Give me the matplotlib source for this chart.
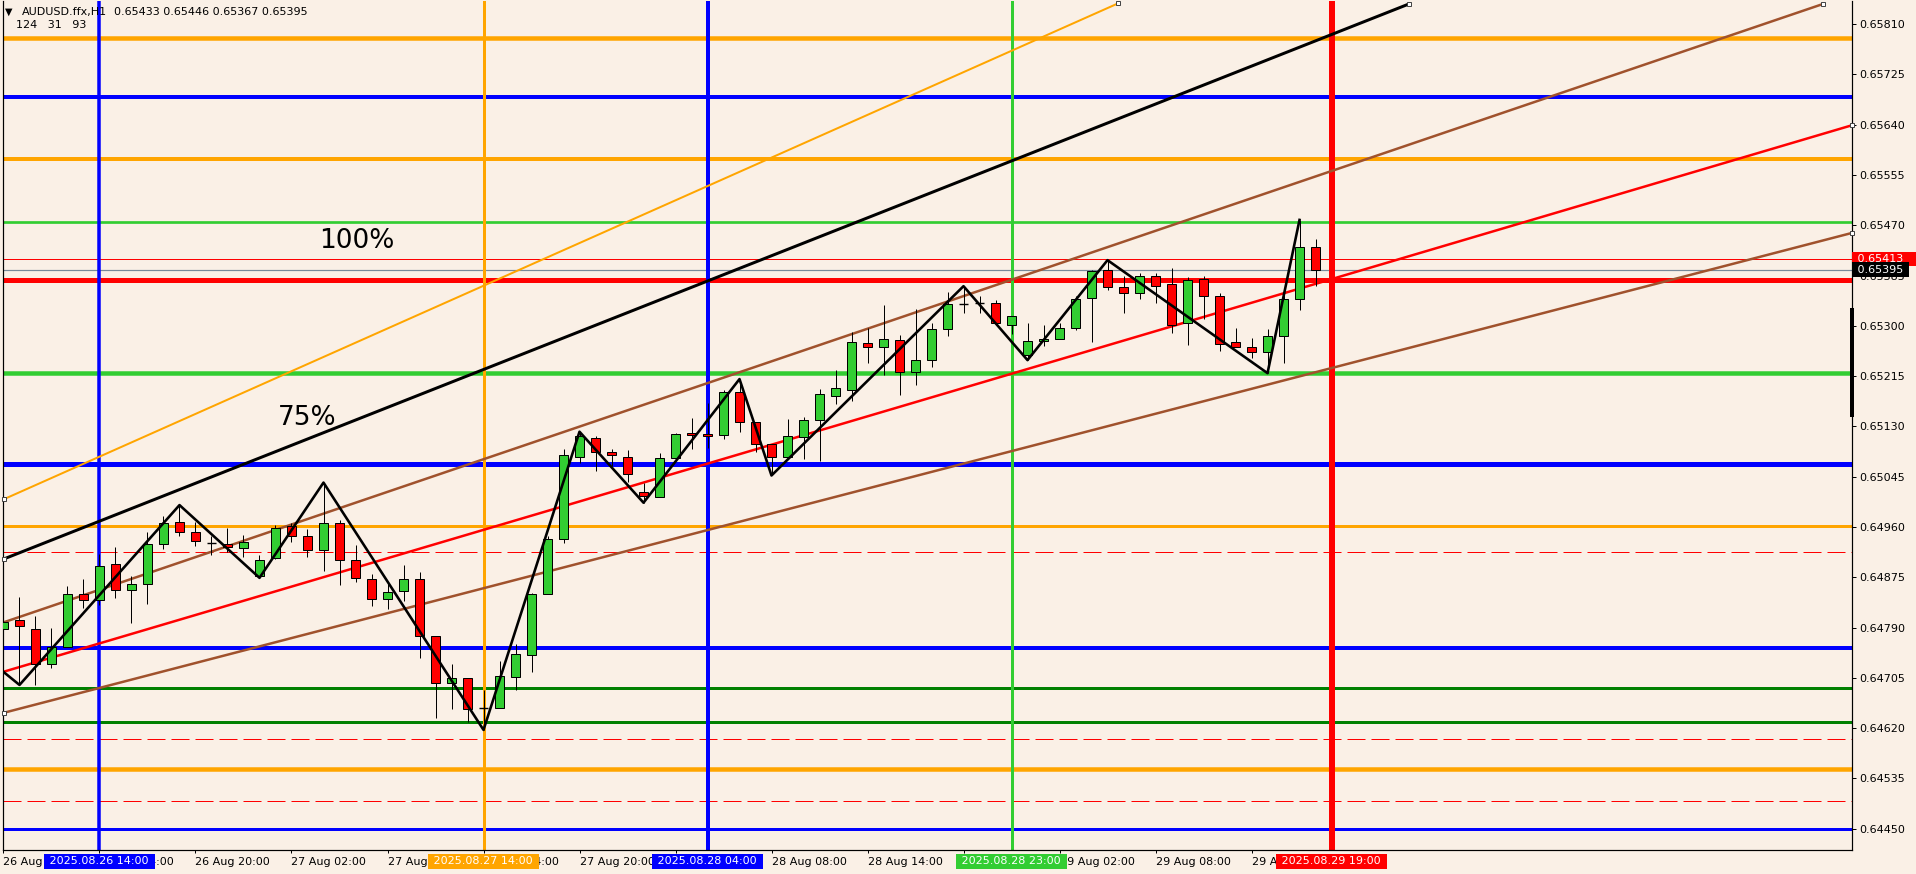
"""AUDUSD H1 chart (MT4 style) with horizontal levels, trendlines, zigzag and candles."""
import matplotlib

matplotlib.use("Agg")
import matplotlib.pyplot as plt
import matplotlib.transforms as mtransforms
from matplotlib.patches import Rectangle

W, H = 1916, 874
BG = "#FAF0E6"
UP = "#32CD32"
DOWN = "#FF0000"
PX = 0.72  # 1 px in points at dpi=100
FS = 8

# H1 bars from 26 Aug 08:00 to 29 Aug 18:00, prices in points (1e-5)
OPEN_PTS = [64787, 64802, 64787, 64728, 64757, 64846, 64836, 64897, 64853, 64863,
            64932, 64968, 64951, 64933, 64932, 64924, 64877, 64907, 64961, 64944,
            64921, 64966, 64904, 64872, 64838, 64852, 64872, 64775, 64697, 64704,
            64654, 64654, 64706, 64743, 64846, 64939, 65078, 65110, 65086, 65079,
            65019, 65010, 65076, 65118, 65117, 65115, 65188, 65137, 65100, 65078,
            65112, 65140, 65181, 65191, 65271, 65264, 65276, 65222, 65242, 65295,
            65338, 65338, 65338, 65301, 65250, 65274, 65277, 65296, 65347, 65394,
            65365, 65355, 65385, 65371, 65304, 65379, 65351, 65272, 65264, 65256,
            65283, 65345, 65433]
HIGH_PTS = [64811, 64842, 64810, 64789, 64860, 64872, 64915, 64926, 64877, 64951,
            64979, 64997, 64969, 64944, 64959, 64946, 64913, 64963, 64966, 64956,
            65035, 64972, 64929, 64880, 64865, 64896, 64884, 64775, 64728, 64704,
            64684, 64734, 64763, 64848, 64944, 65092, 65121, 65114, 65091, 65090,
            65034, 65085, 65119, 65145, 65169, 65191, 65210, 65137, 65100, 65142,
            65146, 65193, 65225, 65289, 65296, 65335, 65284, 65328, 65305, 65357,
            65367, 65350, 65344, 65316, 65304, 65302, 65304, 65350, 65395, 65411,
            65384, 65389, 65389, 65397, 65383, 65384, 65356, 65296, 65279, 65295,
            65352, 65479, 65446]
LOW_PTS = [64777, 64693, 64693, 64722, 64757, 64823, 64828, 64840, 64797, 64830,
           64922, 64944, 64928, 64912, 64918, 64910, 64874, 64906, 64935, 64909,
           64886, 64862, 64867, 64827, 64822, 64835, 64739, 64637, 64652, 64631,
           64617, 64654, 64684, 64715, 64846, 64933, 65068, 65055, 65063, 65036,
           65001, 65010, 65073, 65091, 65093, 65109, 65121, 65087, 65047, 65078,
           65075, 65071, 65168, 65173, 65237, 65217, 65183, 65200, 65230, 65283,
           65322, 65321, 65304, 65286, 65242, 65266, 65277, 65293, 65273, 65360,
           65322, 65345, 65339, 65288, 65267, 65311, 65258, 65265, 65246, 65220,
           65237, 65327, 65367]
CLOSE_PTS = [64800, 64792, 64728, 64757, 64846, 64836, 64894, 64853, 64863, 64932,
             64966, 64951, 64936, 64932, 64926, 64934, 64905, 64958, 64944, 64921,
             64966, 64904, 64874, 64838, 64850, 64872, 64776, 64697, 64704, 64652,
             64653, 64708, 64746, 64846, 64939, 65081, 65113, 65086, 65081, 65049,
             65012, 65076, 65117, 65115, 65113, 65188, 65137, 65100, 65079, 65113,
             65141, 65184, 65195, 65273, 65264, 65278, 65222, 65242, 65295, 65337,
             65337, 65338, 65304, 65316, 65275, 65278, 65297, 65346, 65393, 65365,
             65355, 65385, 65368, 65302, 65377, 65350, 65270, 65265, 65255, 65283,
             65345, 65433, 65395]

# x-axis labels every 6 bars
TIME_LABELS = ["26 Aug 08:00", "26 Aug 14:00", "26 Aug 20:00", "27 Aug 02:00",
               "27 Aug 08:00", "27 Aug 14:00", "27 Aug 20:00", "28 Aug 02:00",
               "28 Aug 08:00", "28 Aug 14:00", "28 Aug 20:00", "29 Aug 02:00",
               "29 Aug 08:00", "29 Aug 14:00"]
PRICE_TICKS = [0.65810, 0.65725, 0.65640, 0.65555, 0.65470, 0.65385, 0.65300,
               0.65215, 0.65130, 0.65045, 0.64960, 0.64875, 0.64790, 0.64705,
               0.64620, 0.64535, 0.64450]

# horizontal levels
HL_PRICES = [0.65786, 0.65687, 0.65582, 0.65475, 0.65413, 0.65395, 0.65377,
             0.65221, 0.65067, 0.64962, 0.64918, 0.64756, 0.64688, 0.64631,
             0.64602, 0.64551, 0.64497, 0.64449]
HL_STYLE = [("#FFA500", 4.5, "-"), ("#0000FF", 4, "-"), ("#FFA500", 4, "-"),
            (UP, 2.7, "-"), ("#FF0000", 1, "-"), ("#778899", 1.2, "-"),
            ("#FF0000", 5, "-"), (UP, 4.5, "-"), ("#0000FF", 5, "-"),
            ("#FFA500", 3, "-"), ("#FF0000", 1, "--"), ("#0000FF", 4, "-"),
            ("#008000", 3, "-"), ("#008000", 3, "-"), ("#FF0000", 1, "--"),
            ("#FFA500", 4.5, "-"), ("#FF0000", 1, "--"), ("#0000FF", 3, "-")]

# vertical lines (bar index) with their time labels
VL_IDX = [6, 30, 44, 63, 83]
VL_LABELS = ["2025.08.26 14:00", "2025.08.27 14:00", "2025.08.28 04:00",
             "2025.08.28 23:00", "2025.08.29 19:00"]
VL_STYLE = [("#0000FF", 3.5), ("#FFA500", 3), ("#0000FF", 4), (UP, 3), ("#FF0000", 6)]

# trendlines: (x0, x1) in bar index, (p0, p1)
TL_ORANGE = ([0.03, 69.66], [0.65007, 0.65845])
TL_BLACK = ([0.03, 87.84], [0.64906, 0.65844])
TL_BROWN_UP = ([0.03, 113.72], [0.64799, 0.65844])
TL_BROWN_LO = ([0.03, 115.53], [0.64646, 0.65457])
TL_RED = ([-0.03, 115.53], [0.64715, 0.65639])

# zigzag swing points
ZZ_IDX = [-1, 1, 11, 16, 20, 30, 36, 40, 46, 48, 60, 64, 69, 79, 81]
ZZ_PRICE = [0.64737, 0.64693, 0.64997, 0.64874, 0.65035, 0.64617, 0.65121, 0.65001,
            0.65210, 0.65047, 0.65367, 0.65242, 0.65411, 0.65220, 0.65479]

ASK, BID = 0.65413, 0.65395
SCALE_BAR = (0.65146, 0.65330)

opens = [v / 1e5 for v in OPEN_PTS]
highs = [v / 1e5 for v in HIGH_PTS]
lows = [v / 1e5 for v in LOW_PTS]
closes = [v / 1e5 for v in CLOSE_PTS]

fig = plt.figure(figsize=(W / 100, H / 100), dpi=100, facecolor=BG)
ax = fig.add_axes([3 / W, (H - 850) / H, (1852 - 3) / W, 849 / H], facecolor=BG)
ax.set_xlim(-0.031, 115.53)
ax.set_ylim(0.64414, 0.65849)

for p, (col, w, ls) in zip(HL_PRICES, HL_STYLE):
    kw = {"dashes": (18, 6)} if ls == "--" else {}
    ax.axhline(p, color=col, lw=w * PX, zorder=1, **kw)

for x, (col, w) in zip(VL_IDX, VL_STYLE):
    ax.axvline(x, color=col, lw=w * PX, zorder=1.5)

for (xs, ps), col, w in [(TL_ORANGE, "#FFA500", 2), (TL_BLACK, "black", 3),
                         (TL_BROWN_UP, "#A0522D", 2.5), (TL_BROWN_LO, "#A0522D", 2.5),
                         (TL_RED, "#FF0000", 2.5)]:
    ax.plot(xs, ps, color=col, lw=w * PX, zorder=2, solid_capstyle="butt")

# anchor markers of the selected trendlines
mk = dict(marker="s", ms=3.2, mfc="white", mec="#404040", mew=0.7, ls="none",
          zorder=6, clip_on=False)
ax.plot([TL_ORANGE[0][0], TL_BLACK[0][0], TL_BROWN_LO[0][0]],
        [TL_ORANGE[1][0], TL_BLACK[1][0], TL_BROWN_LO[1][0]], **mk)
ax.plot([TL_ORANGE[0][1], TL_BLACK[0][1], TL_BROWN_UP[0][1], TL_RED[0][1], TL_BROWN_LO[0][1]],
        [TL_ORANGE[1][1], TL_BLACK[1][1], TL_BROWN_UP[1][1], TL_RED[1][1], TL_BROWN_LO[1][1]],
        **mk)

# candles
bw = 0.62
for i, (o, h, l, c) in enumerate(zip(opens, highs, lows, closes)):
    ax.vlines(i, l, h, color="black", lw=1.0 * PX, zorder=3)
    if abs(c - o) < 1.5e-5:
        ax.hlines((o + c) / 2, i - bw / 2, i + bw / 2, color="black", lw=1.4 * PX, zorder=4)
        continue
    ax.add_patch(Rectangle((i - bw / 2, min(o, c)), bw, abs(c - o),
                           facecolor=UP if c > o else DOWN, edgecolor="black",
                           lw=1.0 * PX, zorder=4))

ax.plot(ZZ_IDX, ZZ_PRICE, color="black", lw=2.6 * PX, zorder=5)

ax.text(19.7, 0.65443, "100%", fontsize=19, va="center", ha="left", zorder=6)
ax.text(17.16, 0.65145, "75%", fontsize=19, va="center", ha="left", zorder=6)

# axes styling
ax.spines["top"].set_visible(False)
for side in ("left", "right", "bottom"):
    ax.spines[side].set_color("black")
    ax.spines[side].set_linewidth(1.2 * PX)
ax.yaxis.tick_right()
ax.set_yticks(PRICE_TICKS)
ax.set_yticklabels([f"{p:.5f}" for p in PRICE_TICKS])
ax.tick_params(axis="y", which="both", direction="out", length=4 * PX, width=PX,
               pad=2.5, labelsize=FS, colors="black", left=False)
ax.set_xticks(range(0, 6 * len(TIME_LABELS), 6))
ax.set_xticklabels(TIME_LABELS, ha="left")
ax.tick_params(axis="x", direction="out", length=3 * PX, width=PX, pad=3,
               labelsize=FS, colors="black")

# coloured time boxes under vertical lines
xtr = mtransforms.blended_transform_factory(ax.transData, ax.transAxes)
for x, lab, (col, _) in zip(VL_IDX, VL_LABELS, VL_STYLE):
    ax.text(x, -0.0135, " " + lab + " ", transform=xtr, fontsize=FS, color="white",
            ha="center", va="center", clip_on=False, zorder=10,
            bbox=dict(boxstyle="square,pad=0.25", fc=col, ec="none"))

# ask / bid boxes on the price scale
ytr = mtransforms.blended_transform_factory(ax.transAxes, ax.transData)
ax.text(1.0012, ASK, " %.5f   " % ASK, transform=ytr, fontsize=FS, color="white",
        ha="left", va="center", clip_on=False, zorder=10,
        bbox=dict(boxstyle="square,pad=0.2", fc="#FF0000", ec="none"))
ax.text(1.0012, BID, " %.5f " % BID, transform=ytr, fontsize=FS, color="white",
        ha="left", va="center", clip_on=False, zorder=11,
        bbox=dict(boxstyle="square,pad=0.2", fc="black", ec="none"))
ax.plot([1.0, 1.0], SCALE_BAR, transform=ytr, color="black", lw=4 * PX,
        clip_on=False, zorder=9, solid_capstyle="butt")

# header
fig.text(5 / W, 1 - 12 / H, "▼", fontsize=7, va="center", ha="left")
fig.text(22 / W, 1 - 12 / H, "AUDUSD.ffx,H1", fontsize=FS, va="center", ha="left")
fig.text(114 / W, 1 - 12 / H, "%.5f %.5f %.5f %.5f" % (opens[-1], highs[-1], lows[-1], closes[-1]),
         fontsize=FS, va="center", ha="left")
fig.text(16 / W, 1 - 25 / H, "124   31   93", fontsize=FS, va="center", ha="left")

fig.savefig("out.png", dpi=100, facecolor=BG)
